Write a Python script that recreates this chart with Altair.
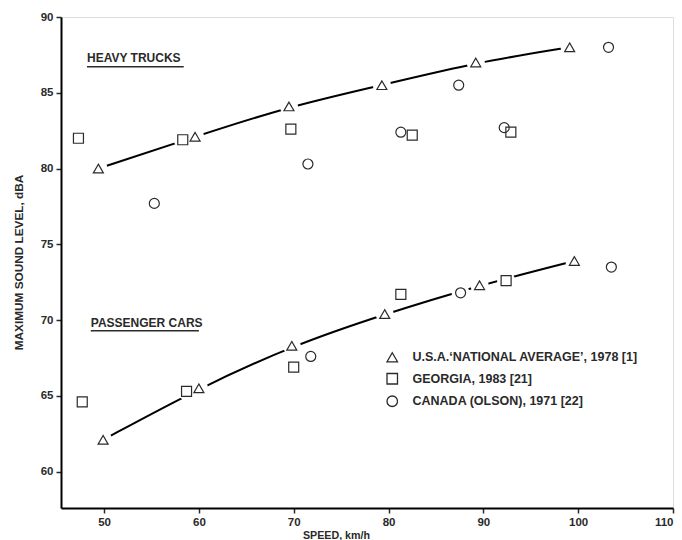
import altair as alt
import pandas as pd

# ---- data ----
truck_usa_speed = [49.4, 59.6, 69.5, 79.3, 89.2, 99.1]
truck_usa_level = [80.0, 82.1, 84.1, 85.5, 87.0, 88.0]
truck_ga_speed = [47.3, 58.3, 69.7, 82.5, 92.9]
truck_ga_level = [82.0, 81.9, 82.6, 82.2, 82.4]
truck_ca_speed = [55.3, 71.5, 81.3, 87.4, 92.2, 103.2]
truck_ca_level = [77.7, 80.3, 82.4, 85.5, 82.7, 88.0]

car_usa_speed = [49.9, 60.0, 69.8, 79.6, 89.6, 99.6]
car_usa_level = [62.1, 65.5, 68.3, 70.4, 72.3, 73.9]
car_ga_speed = [47.7, 58.7, 70.0, 81.3, 92.4]
car_ga_level = [64.6, 65.3, 66.9, 71.7, 72.6]
car_ca_speed = [71.8, 87.6, 103.5]
car_ca_level = [67.6, 71.8, 73.5]

series_names = [
    "U.S.A.\u2018NATIONAL AVERAGE\u2019, 1978 [1]",
    "GEORGIA, 1983 [21]",
    "CANADA (OLSON), 1971 [22]",
]
series_shapes = ["triangle-up", "square", "circle"]

x_ticks = [50, 60, 70, 80, 90, 100, 110]
y_ticks = [60, 65, 70, 75, 80, 85, 90]

label_texts = ["HEAVY TRUCKS", "PASSENGER CARS"]
label_speed = [48.2, 48.6]
label_level = [87.0, 69.57]
underline_speed_end = [58.4, 60.0]
underline_level = [86.72, 69.29]

FONT = "Liberation Sans"
INK = "#2a2a2a"

rows = []
for veh, sets in [
    ("trucks", [(truck_usa_speed, truck_usa_level), (truck_ga_speed, truck_ga_level), (truck_ca_speed, truck_ca_level)]),
    ("cars", [(car_usa_speed, car_usa_level), (car_ga_speed, car_ga_level), (car_ca_speed, car_ca_level)]),
]:
    for name, (xs, ys) in zip(series_names, sets):
        for x, y in zip(xs, ys):
            rows.append({"vehicle": veh, "series": name, "speed": x, "level": y})
pts = pd.DataFrame(rows)
usa = pts[pts["series"] == series_names[0]]

labels = pd.DataFrame({
    "text": label_texts, "speed": label_speed, "level": label_level,
    "speed2": underline_speed_end, "ulevel": underline_level,
})

xscale = alt.Scale(domain=[45.46, 110], nice=False, zero=False)
yscale = alt.Scale(domain=[57.6, 90], nice=False, zero=False)

xaxis = alt.Axis(values=x_ticks, grid=False, domainColor="black", domainWidth=2,
                 tickColor=INK, tickWidth=1.5, tickSize=5, labelPadding=3,
                 labelFont=FONT, labelFontSize=11.5, labelFontWeight="bold", labelColor=INK,
                 title="SPEED, km/h", titleFont=FONT, titleFontSize=10.7, titleFontWeight="bold",
                 titleColor=INK, titleX=275, titleY=30, titleAlign="center",
                 titleBaseline="alphabetic")
yaxis = alt.Axis(values=y_ticks, grid=False, domainColor="black", domainWidth=2,
                 tickColor=INK, tickWidth=1.5, tickSize=5, labelPadding=3,
                 labelFont=FONT, labelFontSize=11.5, labelFontWeight="bold", labelColor=INK,
                 title="MAXIMUM SOUND LEVEL, dBA", titleFont=FONT, titleFontSize=11.8,
                 titleFontWeight="bold", titleColor=INK, titleX=-43, titleY=245,
                 titleAngle=270, titleAlign="center", titleBaseline="middle")

X = alt.X("speed:Q", scale=xscale, axis=xaxis)
Y = alt.Y("level:Q", scale=yscale, axis=yaxis)

lines = alt.Chart(usa).mark_line(color="black", strokeWidth=2, interpolate="basis").encode(
    x=X, y=Y, detail="vehicle:N")

halo = alt.Chart(pts).mark_point(shape="circle", filled=True, color="white", size=330, opacity=1).encode(
    x="speed:Q", y="level:Q")

markers = alt.Chart(pts).mark_point(filled=False, color=INK, strokeWidth=1.2,
                                    size=100, opacity=1).encode(
    x="speed:Q", y="level:Q",
    shape=alt.Shape("series:N",
                    scale=alt.Scale(domain=series_names, range=series_shapes),
                    legend=alt.Legend(title=None, orient="none", legendX=325, legendY=334,
                                      labelFont=FONT, labelFontSize=12.5, labelFontWeight="bold",
                                      labelColor=INK, labelLimit=400, symbolSize=110,
                                      symbolStrokeColor=INK, symbolStrokeWidth=1.3,
                                      symbolOpacity=1,
                                      labelOffset=14, rowPadding=5.5, padding=0)),
)

texts = alt.Chart(labels).mark_text(align="left", baseline="alphabetic", font=FONT, fontSize=12,
                                    fontWeight="bold", color=INK).encode(
    x="speed:Q", y="level:Q", text="text:N")

underlines = alt.Chart(labels).mark_rule(color=INK, strokeWidth=1.5).encode(
    x="speed:Q", x2="speed2:Q", y="ulevel:Q")

chart = alt.layer(lines, halo, markers, texts, underlines).properties(
    width=612, height=491,
    padding={"left": 61, "top": 17, "right": 9, "bottom": 32},
    autosize=alt.AutoSizeParams(type="none"),
).configure_view(stroke=None).configure(background="white")

chart.save("out.html", embed_options={"renderer": "svg", "actions": False})
